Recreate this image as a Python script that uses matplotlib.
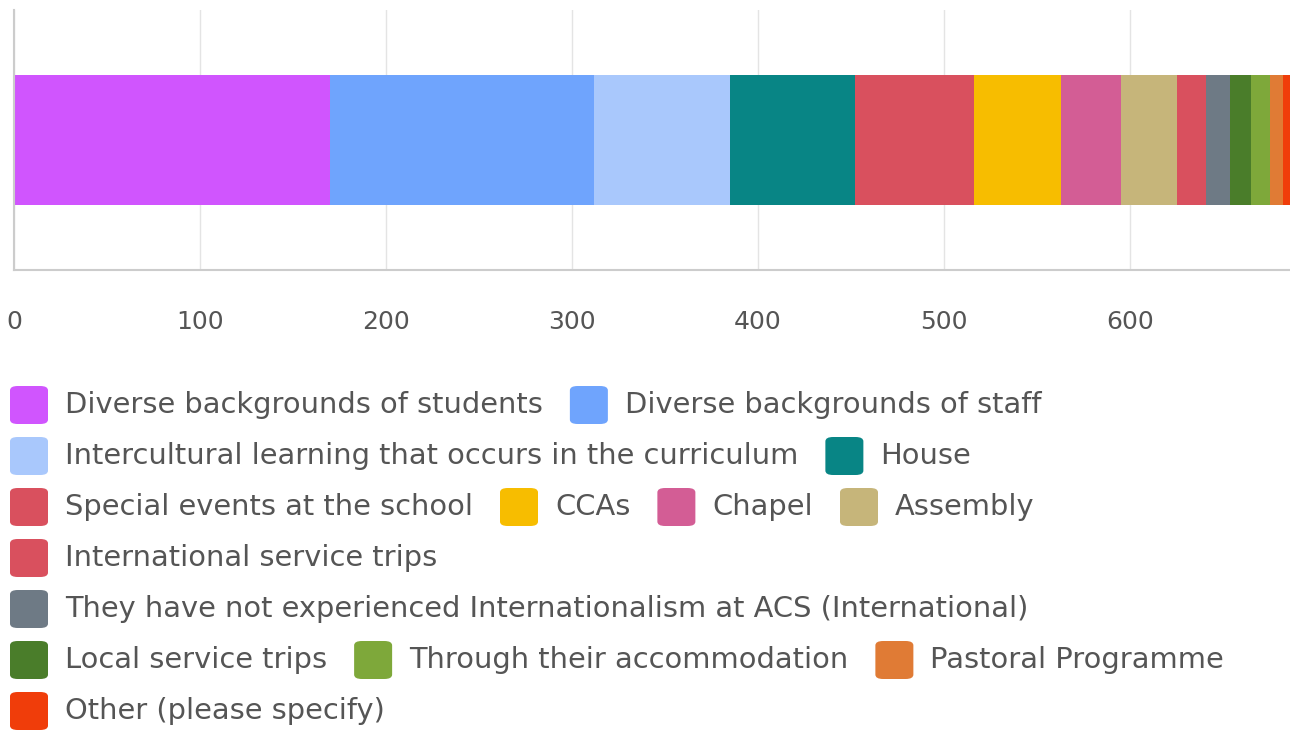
import matplotlib.pyplot as plt
from matplotlib.patches import FancyBboxPatch

plt.rcParams['font.family'] = ['DejaVu Sans']

# responses per option
labels = ["Diverse backgrounds of students", "Diverse backgrounds of staff",
          "Intercultural learning that occurs in the curriculum", "House",
          "Special events at the school", "CCAs", "Chapel", "Assembly",
          "International service trips",
          "They have not experienced Internationalism at ACS (International)",
          "Local service trips", "Through their accommodation",
          "Pastoral Programme", "Other (please specify)"]
values = [170, 142, 73, 67, 64, 47, 32, 30, 16, 13, 11, 10, 7, 5]
colors = ["#d055fe", "#6fa4fd", "#a9c8fc", "#088585", "#d9505e", "#f7bd00",
          "#d35d95", "#c6b57a", "#d9505e", "#6e7a85", "#4a7d2a", "#7ea83a",
          "#e07b35", "#f03d0a"]
ticks = [0, 100, 200, 300, 400, 500, 600]

# legend wrapping (as in the reference)
rows = [[0, 1], [2, 3], [4, 5, 6, 7], [8], [9], [10, 11, 12], [13]]

W, H = 1290, 731
fig = plt.figure(figsize=(W / 100, H / 100), dpi=100)
ax = fig.add_axes([14 / W, 1 - 270 / H, 1 - 14 / W, 260 / H])

left = 0
for v, c in zip(values, colors):
    ax.barh(0, v, left=left, height=0.5, color=c, edgecolor='none', zorder=2)
    left += v

ax.set_xlim(0, 686)
ax.set_ylim(-0.5, 0.5)
ax.set_xticks(ticks)
ax.set_yticks([])
ax.grid(axis='x', color='#e4e4e4', linewidth=1, zorder=0)
ax.tick_params(axis='x', length=0, pad=29, labelsize=18, labelcolor='#555555')
for s in ['top', 'right']:
    ax.spines[s].set_visible(False)
for s in ['left', 'bottom']:
    ax.spines[s].set_color('#cccccc')
    ax.spines[s].set_linewidth(1.5)

# custom legend
fig.canvas.draw()
r = fig.canvas.get_renderer()
y0, dy = 405, 51
for ri, row in enumerate(rows):
    y = y0 + ri * dy
    x = 10
    for i in row:
        sq = FancyBboxPatch((x / W, (H - y - 19) / H), 38 / W, 38 / H,
                            boxstyle="round,pad=0,rounding_size=0.006",
                            transform=fig.transFigure, facecolor=colors[i],
                            edgecolor='none')
        fig.patches.append(sq)
        t = fig.text((x + 55) / W, 1 - y / H, labels[i], fontsize=20.8,
                     color='#555555', va='center', ha='left')
        bb = t.get_window_extent(r)
        x = bb.x1 + 27

fig.savefig('out.png', dpi=100)
